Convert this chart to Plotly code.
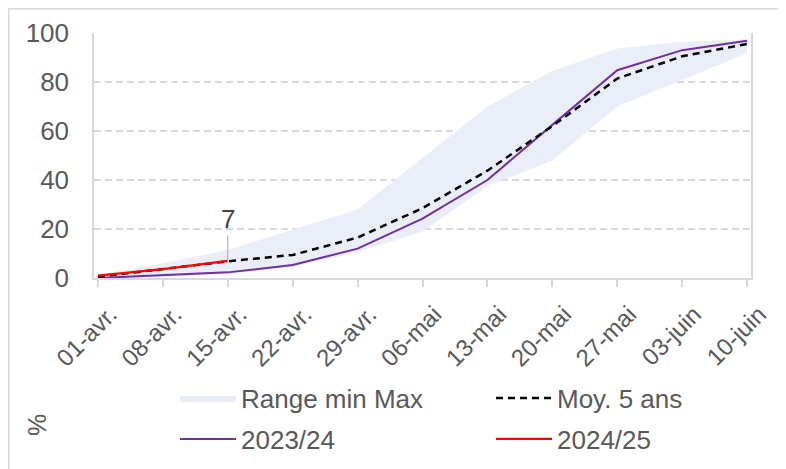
import plotly.graph_objects as go

categories = ["01-avr.", "08-avr.", "15-avr.", "22-avr.", "29-avr.", "06-mai",
              "13-mai", "20-mai", "27-mai", "03-juin", "10-juin"]
range_min = [0, 0.5, 1.5, 4.5, 10.5, 19, 37.5, 48, 70, 81, 91.7]
range_max = [1.2, 6, 11.4, 19.6, 28, 49, 70, 84.5, 93.7, 96.4, 97.3]
moy_5_ans = [0.5, 3.5, 6.8, 9.4, 16.5, 28.5, 43.8, 62, 81.4, 90.5, 95.5]
s2023_24 = [0, 1, 2.3, 5.3, 12, 24.2, 40, 62.5, 84.8, 93, 96.8]
s2024_25 = [1, 3.6, 7]
label_2024_25 = "7"
y_ticks = [0, 20, 40, 60, 80, 100]

FONT = "Liberation Sans, Arial, sans-serif"
GREY_TXT = "#595959"
GRID = "#d9d9d9"

OFF = 8  # page body margin
W, H = 786 - OFF, 469 - OFF
L, T = 94 - OFF, 33 - OFF
R = W - (751 - OFF)
B = H - (278 - OFF)
pw, ph = W - L - R, H - T - B

def px_x(px):
    return (px - OFF - L) / pw

def px_y(py):
    return (H - B - (py - OFF)) / ph

fig = go.Figure()

fig.add_trace(go.Scatter(x=categories, y=range_min, mode="lines",
                         line=dict(width=0, color="rgba(0,0,0,0)"),
                         showlegend=False, hoverinfo="skip"))
fig.add_trace(go.Scatter(x=categories, y=range_max, mode="lines",
                         line=dict(width=0, color="#E9EEF8"),
                         fill="tonexty", fillcolor="#E9EEF8",
                         name="Range min Max", legend="legend"))
fig.add_trace(go.Scatter(x=categories, y=s2023_24, mode="lines",
                         line=dict(width=2, color="#7030A0"),
                         name="2023/24", legend="legend2"))
fig.add_trace(go.Scatter(x=categories, y=moy_5_ans, mode="lines",
                         line=dict(width=2.5, color="black", dash="7px,5px"),
                         name="Moy. 5 ans", legend="legend"))
fig.add_trace(go.Scatter(x=categories[:len(s2024_25)], y=s2024_25, mode="lines",
                         line=dict(width=2.2, color="#FF0000"),
                         name="2024/25", legend="legend2"))

fig.add_annotation(x=categories[len(s2024_25) - 1], y=s2024_25[-1],
                   text=label_2024_25, showarrow=True, arrowhead=0,
                   arrowwidth=1, arrowcolor="#a6a6a6", ax=0, ay=-42,
                   font=dict(family=FONT, size=26, color="#404040"))

fig.add_annotation(x=px_x(37), y=px_y(425), xref="paper", yref="paper",
                   xanchor="center", yanchor="middle",
                   text="%", textangle=-90, showarrow=False,
                   font=dict(family=FONT, size=25, color=GREY_TXT))

fig.add_shape(type="rect", xref="paper", yref="paper",
              x0=px_x(OFF + 0.5), y0=px_y(490), x1=px_x(820), y1=px_y(OFF + 0.5),
              line=dict(color="#d9d9d9", width=2), layer="below")

legend_common = dict(orientation="h", font=dict(family=FONT, size=26, color=GREY_TXT),
                     bgcolor="rgba(0,0,0,0)", entrywidth=245, entrywidthmode="pixels",
                     itemwidth=56, xanchor="left", yanchor="middle", traceorder="normal")

fig.update_layout(
    width=W, height=H,
    margin=dict(l=L, r=R, t=T, b=B, autoexpand=False),
    paper_bgcolor="white", plot_bgcolor="white",
    font=dict(family=FONT, color=GREY_TXT),
    legend=dict(x=px_x(175), y=px_y(398), **legend_common),
    legend2=dict(x=px_x(175), y=px_y(439), **legend_common),
    xaxis=dict(type="category", range=[-0.06, 10.06], showgrid=False,
               showline=True, linecolor=GRID, linewidth=1.5,
               ticks="outside", ticklen=7, tickcolor=GRID, tickwidth=1.5,
               tickangle=-45, ticklabelshift=12, ticklabelstandoff=4,
               tickfont=dict(family=FONT, size=24, color=GREY_TXT)),
    yaxis=dict(range=[0, 100], tickvals=y_ticks, showgrid=True, gridcolor=GRID,
               gridwidth=1.5, griddash="7px,4px", zeroline=False,
               showline=True, mirror=True, linecolor=GRID, linewidth=1.5,
               ticks="", ticklabelstandoff=18,
               tickfont=dict(family=FONT, size=26, color=GREY_TXT)),
)

fig.write_html("out.html")
